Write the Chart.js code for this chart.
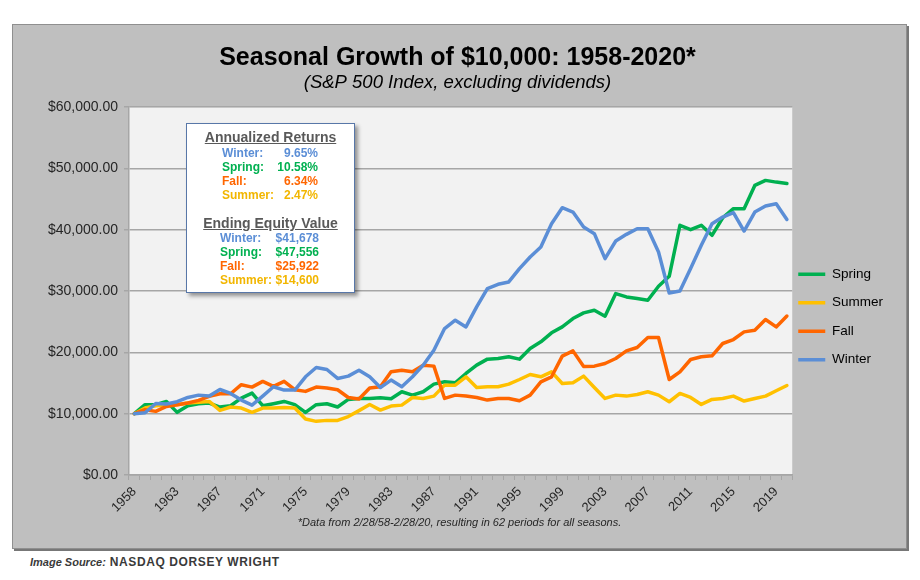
<!DOCTYPE html>
<html><head><meta charset="utf-8">
<script src="https://cdn.jsdelivr.net/npm/chart.js@4.4.1/dist/chart.umd.min.js"></script>
<style>
html,body{margin:0;padding:0;background:#fff;width:920px;height:580px;overflow:hidden;font-family:"Liberation Sans",Arial,sans-serif;}
#panel{position:absolute;left:13px;top:25px;width:893px;height:523px;background:#bfbfbf;box-shadow:0 0 0 1px #8f8f8f,2px 2px 0 1px #777;}
#panel canvas{position:absolute;left:0;top:0;}
#box{position:absolute;left:186px;top:123px;width:167px;height:168px;background:#fff;border:1.5px solid #5877a8;box-shadow:3px 3px 4px rgba(0,0,0,.4);font-weight:bold;font-size:12px;}
#box .h{position:absolute;left:0;width:167px;text-align:center;font-size:14px;color:#595959;text-decoration:underline;height:16px;line-height:16px;}
#box .r{position:absolute;height:14px;line-height:14px;white-space:nowrap;}
#note{position:absolute;left:13px;width:893px;top:516px;text-align:center;font-style:italic;font-size:11px;color:#262626;}
#src{position:absolute;left:30px;top:552px;font-weight:bold;color:#3a3a3a;white-space:nowrap;}
#src i{font-size:11px;}
#src span{font-size:12px;letter-spacing:0.6px;margin-left:4px;}
</style></head>
<body>
<div id="panel"><canvas id="c" width="893" height="523"></canvas></div>
<div id="box"></div>
<div id="note">*Data from 2/28/58-2/28/20, resulting in 62 periods for all seasons.</div>
<div id="src"><i>Image Source:</i><span>NASDAQ DORSEY WRIGHT</span></div>
<script>
const categories = ['1958','1960','1961','1962','1963','1964','1965','1966','1967','1968','1969','1970','1971','1972','1973','1974','1975','1976','1977','1978','1979','1980','1981','1982','1983','1984','1985','1986','1987','1988','1989','1990','1991','1992','1993','1994','1995','1996','1997','1998','1999','2000','2001','2002','2003','2004','2005','2006','2007','2008','2009','2010','2011','2012','2013','2014','2015','2016','2017','2018','2019','2020'];
const tickEvery = 4;

const spring = [10000,11470,11470,12000,10220,11300,11630,11740,11090,11300,12550,13370,11300,11630,12000,11470,10220,11470,11630,11090,12330,12490,12490,12600,12430,13580,13030,13580,14820,15200,15040,16560,17920,18900,19000,19280,18900,20630,21720,23190,24160,25520,26440,26880,25900,29590,29050,28780,28510,30790,32420,40730,40020,40730,39100,41970,43440,43440,47240,48060,47780,47556];
const summer = [10000,10920,11300,11400,11470,11740,11850,12000,10540,11090,10920,10220,10920,10920,11030,10920,9130,8750,8910,8900,9530,10500,11500,10590,11240,11400,12650,12490,12870,14660,14660,16020,14280,14390,14390,14820,15580,16400,16020,16830,14930,15040,16130,14280,12490,13030,12870,13140,13580,13030,11950,13300,12650,11510,12330,12490,12870,12060,12490,12870,13740,14600];
const fall = [10000,10650,10380,11190,11470,11740,12170,12820,13260,13260,14730,14340,15270,14450,15270,13910,13640,14340,14180,13900,12650,12400,14200,14390,16830,17100,16830,17920,17760,12490,13030,12870,12650,12220,12490,12490,12110,13030,15200,16020,19390,20250,17700,17760,18190,19000,20250,20800,22430,22430,15580,16830,18840,19280,19440,21450,22100,23350,23620,25360,24160,25922];
const winter = [10000,10150,11670,11570,11950,12650,13030,12870,13950,13300,12220,11400,12870,14390,13850,13850,16020,17540,17210,15750,16130,17100,16020,14280,15480,14390,16020,17920,20360,23890,25250,24160,27420,30410,31110,31490,33670,35570,37200,41000,43600,42900,40450,39370,35300,38170,39260,40180,40180,36380,29700,30030,33670,37470,41000,42080,42790,39800,42900,43870,44250,41678];

const seriesNames = ['Spring','Summer','Fall','Winter'];
const seriesColors = ['#00b050','#ffc000','#ff6600','#5b8ed6'];
const textColors = {Winter:'#5b8ed6',Spring:'#00b050',Fall:'#ff6600',Summer:'#f2b600'};
const annualized = [['Winter','9.65%'],['Spring','10.58%'],['Fall','6.34%'],['Summer','2.47%']];
const ending = [['Winter','$41,678'],['Spring','$47,556'],['Fall','$25,922'],['Summer','$14,600']];

// annotation box
(function(){
  const box = document.getElementById('box');
  let html = '<div class="h" style="top:5px">Annualized Returns</div>';
  annualized.forEach((r,i)=>{
    const t = 22 + i*14;
    html += '<div class="r" style="top:'+t+'px;left:35px;color:'+textColors[r[0]]+'">'+r[0]+':</div>';
    html += '<div class="r" style="top:'+t+'px;right:36px;text-align:right;color:'+textColors[r[0]]+'">'+r[1]+'</div>';
  });
  html += '<div class="h" style="top:91px">Ending Equity Value</div>';
  ending.forEach((r,i)=>{
    const t = 107 + i*14;
    html += '<div class="r" style="top:'+t+'px;left:33px;color:'+textColors[r[0]]+'">'+r[0]+':</div>';
    html += '<div class="r" style="top:'+t+'px;right:35px;text-align:right;color:'+textColors[r[0]]+'">'+r[1]+'</div>';
  });
  box.innerHTML = html;
})();

const FONT = '"Liberation Sans", Arial, sans-serif';
const values = [spring, summer, fall, winter];
const datasets = seriesNames.map((n,i)=>({
  label:n, data:values[i], borderColor:seriesColors[i], backgroundColor:seriesColors[i],
  borderWidth:3.5, pointRadius:0, tension:0, fill:false, order:3-i,
  borderJoinStyle:'round', borderCapStyle:'round'
}));

const plotBg = {id:'plotBg', beforeDraw(chart){
  const {ctx, chartArea:a} = chart;
  ctx.save(); ctx.fillStyle='#f2f2f2'; ctx.fillRect(a.left,a.top,a.right-a.left,a.bottom-a.top); ctx.restore();
}};
// nudge legend closer to the plot, as in the original
const legendShift = {id:'legendShift', afterLayout(chart){
  if (chart.legend){ chart.legend.left -= 9; chart.legend.right -= 9; }
}};

new Chart(document.getElementById('c'), {
  type:'line',
  data:{labels:categories, datasets},
  plugins:[plotBg, legendShift],
  options:{
    responsive:false, animation:false, events:[],
    layout:{padding:{left:0,right:4,top:0,bottom:0}},
    plugins:{
      title:{display:true,text:'Seasonal Growth of $10,000: 1958-2020*',color:'#000',font:{family:FONT,size:25,weight:'bold',lineHeight:1.1},padding:{top:19,bottom:0}},
      subtitle:{display:true,text:'(S&P 500 Index, excluding dividends)',color:'#000',font:{family:FONT,size:18.5,style:'italic'},padding:{top:0,bottom:13.5}},
      legend:{position:'right',reverse:true,
        title:{display:true,text:' ',font:{size:10},padding:{top:49,bottom:0}},
        labels:{usePointStyle:true,pointStyle:'line',pointStyleWidth:27,font:{family:FONT,size:13.5},color:'#000',padding:15}},
      tooltip:{enabled:false}
    },
    scales:{
      x:{offset:true,
        grid:{offset:true,drawOnChartArea:false,drawTicks:true,tickLength:5,color:'#a6a6a6'},
        border:{color:'#a6a6a6',width:1.5},
        ticks:{autoSkip:false,minRotation:45,maxRotation:45,font:{family:FONT,size:13},color:'#262626',padding:4,
          callback:(v,i)=> i%tickEvery===0 ? categories[i] : ''},
        afterFit:s=>{s.height=73;}},
      y:{min:0,max:60000,
        ticks:{stepSize:10000,font:{family:FONT,size:14},color:'#262626',padding:6,
          callback:v=>'$'+Number(v).toLocaleString('en-US',{minimumFractionDigits:2,maximumFractionDigits:2})},
        grid:{color:'#a6a6a6',lineWidth:1.5,tickLength:5},
        border:{color:'#a6a6a6',width:1.5},
        afterFit:s=>{s.width=116;}}
    }
  }
});
</script>
</body></html>
